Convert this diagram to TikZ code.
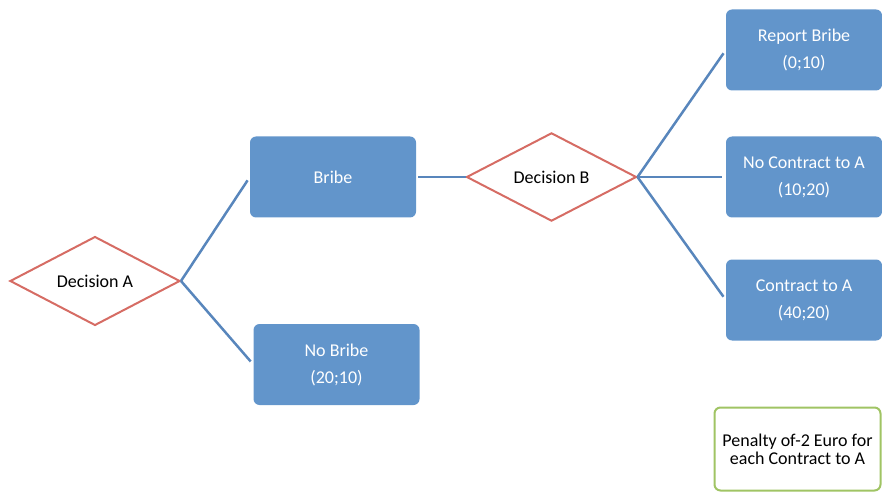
\documentclass[tikz,border=0pt]{standalone}
\usepackage{fontspec}
\setmainfont{Carlito}
\usepackage{tikz}
\usetikzlibrary{shapes.geometric}
\definecolor{BoxBlue}{RGB}{98,149,203}
\definecolor{LineBlue}{RGB}{88,134,188}
\definecolor{DiamondRed}{RGB}{214,108,100}
\definecolor{NoteGreen}{RGB}{160,196,100}
\begin{document}
\begin{tikzpicture}[x=1pt,y=1pt,
  decision/.style={diamond,draw=DiamondRed,line width=2pt,fill=white,inner sep=0pt,
    minimum width=170pt,minimum height=85pt,font=\fontsize{18}{26}\selectfont},
  outcome/.style={rectangle,rounded corners=6pt,fill=BoxBlue,text=white,align=center,
    minimum width=166pt,minimum height=81pt,font=\fontsize{18}{27}\selectfont},
  note/.style={rectangle,rounded corners=6pt,draw=NoteGreen,line width=2pt,fill=white,
    align=center,minimum width=166pt,minimum height=83pt,font=\fontsize{18}{18}\selectfont},
  branch/.style={draw=LineBlue,line width=2.5pt}]
\useasboundingbox (0,0) rectangle (882,493);
% decisions
\node[decision] (decA) at (95,212) {Decision A};
\node[decision] (decB) at (551.5,316) {Decision B};
% outcomes
\node[outcome] (bribe) at (333,316) {Bribe};
\node[outcome] (nobribe) at (336.5,128.5) {No Bribe\\(20;10)};
\node[outcome,minimum width=156pt] (report) at (804,443) {Report Bribe\\(0;10)};
\node[outcome,minimum width=156pt] (nocontract) at (804,316) {No Contract to A\\(10;20)};
\node[outcome,minimum width=156pt] (contract) at (804,193) {Contract to A\\(40;20)};
% note
\node[note] (penalty) at (797.5,44) {Penalty of-2 Euro for\\each Contract to A};
% branches
\draw[branch,shorten >=4pt] (decA.east) -- (bribe.west);
\draw[branch,shorten >=4pt] (decA.east) -- (nobribe.west);
\draw[branch,shorten <=2pt] (bribe.east) -- (decB.west);
\draw[branch,shorten >=4pt] (decB.east) -- (report.west);
\draw[branch,shorten >=4pt] (decB.east) -- (nocontract.west);
\draw[branch,shorten >=4pt] (decB.east) -- (contract.west);
\end{tikzpicture}
\end{document}
